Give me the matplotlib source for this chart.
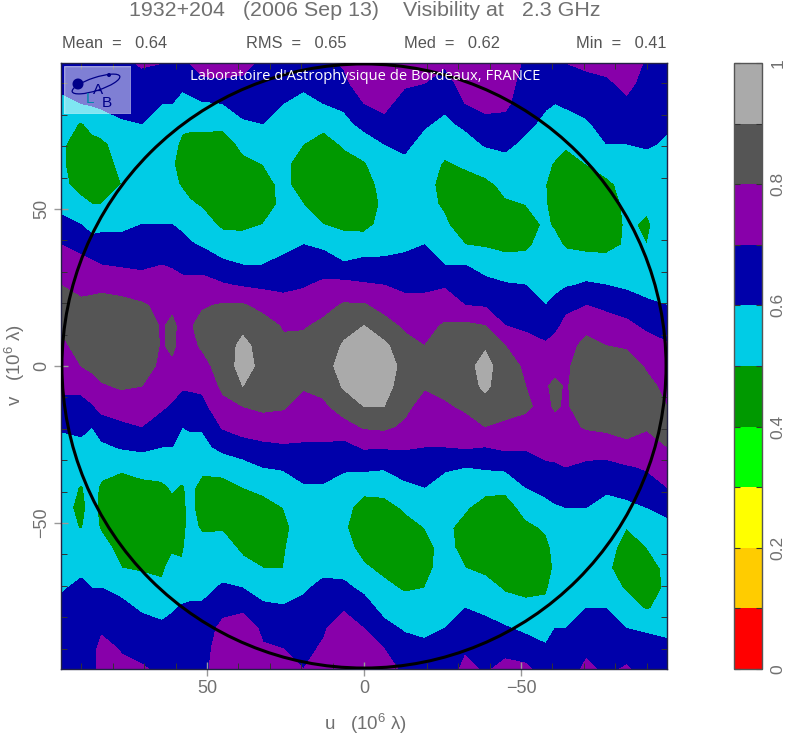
import numpy as np
import matplotlib
matplotlib.use('Agg')
import matplotlib.pyplot as plt
from matplotlib.patches import Circle, Ellipse, Rectangle

# u position of each column of the map
u_cols = [96.5, 90.1, 86.6, 83.6, 77.2, 70.8, 64.3, 61.1, 57.9, 55.4, 51.5, 45.0, 38.6, 32.2, 25.7, 19.3, 12.9, 6.4, 0,
          -6.4, -12.9, -19.3, -25.7, -32.2, -38.6, -45.0, -51.5, -57.9, -60.8, -64.3, -70.8, -77.2, -83.6, -90.1, -96.5]
# visibility, one list per u column (left to right), top to bottom in v
vis_cols = [
    [.66,.62,.58,.55,.51,.51,.52,.57,.63,.70,.75,.80,.82,.81,.78,.75,.72,.67,.61,.57,.55,.53,.52,.53,.54,.56,.59,.62,.64,.65,.66],
    [.64,.62,.60,.49,.47,.46,.47,.52,.60,.66,.74,.77,.82,.85,.83,.80,.73,.66,.62,.58,.54,.495,.485,.495,.55,.58,.62,.64,.66,.65,.65],
    [.66,.64,.61,.53,.47,.46,.47,.50,.57,.63,.72,.77,.83,.86,.85,.82,.76,.69,.60,.58,.54,.52,.52,.53,.55,.58,.60,.63,.65,.66,.66],
    [.70,.66,.62,.55,.48,.46,.48,.50,.58,.63,.70,.78,.83,.86,.87,.84,.79,.73,.65,.58,.52,.49,.48,.49,.53,.57,.60,.63,.68,.74,.74],
    [.68,.65,.63,.59,.54,.52,.50,.54,.58,.63,.69,.76,.83,.87,.88,.85,.81,.75,.68,.61,.51,.47,.45,.45,.47,.50,.58,.62,.66,.69,.73],
    [.71,.67,.63,.60,.57,.55,.54,.56,.60,.64,.68,.75,.81,.85,.86,.84,.80,.75,.70,.62,.54,.47,.45,.44,.46,.49,.54,.59,.63,.67,.71],
    [.70,.65,.60,.57,.55,.54,.55,.57,.60,.65,.70,.74,.78,.79,.79,.78,.75,.71,.66,.60,.55,.48,.45,.44,.45,.48,.52,.57,.62,.65,.68],
    [.69,.64,.60,.56,.53,.51,.52,.55,.60,.65,.69,.74,.78,.82,.82,.78,.73,.69,.64,.60,.55,.51,.47,.46,.48,.54,.57,.59,.63,.66,.69],
    [.66,.62,.57,.52,.48,.46,.49,.53,.58,.63,.68,.72,.75,.77,.76,.74,.71,.66,.60,.57,.54,.49,.48,.48,.49,.51,.56,.61,.64,.66,.67],
    [.70,.63,.58,.52,.47,.45,.47,.51,.56,.61,.67,.73,.77,.79,.78,.75,.71,.67,.61,.57,.54,.52,.52,.52,.53,.56,.58,.61,.64,.66,.67],
    [.74,.68,.59,.52,.47,.45,.46,.49,.54,.59,.66,.74,.79,.83,.81,.77,.72,.67,.61,.57,.52,.47,.46,.49,.53,.57,.58,.61,.64,.66,.67],
    [.73,.69,.60,.52,.46,.44,.43,.45,.48,.55,.62,.71,.81,.85,.86,.84,.82,.77,.71,.63,.53,.47,.46,.49,.54,.57,.61,.67,.73,.75,.76],
    [.73,.68,.63,.59,.52,.48,.46,.46,.48,.54,.60,.69,.81,.88,.92,.94,.90,.80,.74,.66,.56,.50,.46,.45,.48,.53,.60,.68,.76,.74,.74],
    [.68,.65,.63,.60,.56,.50,.47,.46,.50,.55,.60,.68,.77,.84,.87,.87,.85,.82,.75,.68,.60,.52,.47,.46,.48,.50,.56,.62,.68,.71,.72],
    [.69,.64,.60,.57,.54,.52,.52,.52,.53,.58,.62,.68,.73,.79,.82,.85,.84,.81,.75,.69,.61,.55,.50,.49,.495,.50,.55,.61,.67,.70,.72],
    [.69,.62,.57,.53,.50,.46,.46,.50,.55,.60,.64,.69,.75,.79,.83,.82,.81,.76,.73,.69,.64,.59,.55,.52,.53,.56,.59,.62,.65,.68,.70],
    [.68,.64,.60,.52,.47,.45,.44,.46,.50,.58,.65,.72,.77,.82,.85,.86,.83,.78,.73,.69,.64,.59,.55,.53,.55,.58,.62,.66,.69,.71,.73],
    [.71,.68,.62,.57,.51,.47,.45,.45,.48,.54,.61,.73,.81,.87,.91,.94,.91,.85,.76,.67,.61,.57,.53,.51,.53,.57,.62,.69,.75,.76,.74],
    [.78,.75,.70,.63,.55,.49,.46,.44,.47,.55,.63,.71,.81,.90,.95,.97,.95,.90,.81,.71,.62,.53,.46,.45,.47,.51,.58,.64,.70,.74,.75],
    [.77,.74,.72,.68,.60,.56,.53,.52,.53,.57,.62,.70,.76,.84,.92,.95,.93,.90,.82,.71,.61,.53,.47,.45,.46,.48,.52,.57,.63,.70,.74],
    [.73,.71,.67,.64,.62,.58,.55,.54,.55,.58,.63,.68,.73,.78,.84,.87,.86,.83,.78,.71,.64,.58,.51,.47,.45,.46,.49,.54,.59,.64,.68],
    [.74,.70,.65,.61,.57,.54,.52,.52,.55,.60,.64,.68,.73,.77,.80,.83,.81,.75,.74,.70,.65,.60,.55,.50,.47,.47,.50,.55,.58,.62,.66],
    [.71,.67,.62,.58,.53,.49,.48,.49,.51,.57,.60,.69,.75,.81,.86,.86,.84,.78,.74,.70,.61,.57,.52,.52,.53,.54,.56,.58,.60,.63,.65],
    [.75,.73,.70,.62,.56,.51,.47,.45,.46,.50,.60,.65,.70,.82,.86,.87,.85,.82,.75,.71,.60,.55,.51,.47,.47,.50,.56,.60,.65,.69,.72],
    [.77,.74,.72,.68,.61,.54,.48,.46,.46,.49,.56,.63,.69,.80,.89,.93,.92,.86,.80,.70,.61,.53,.46,.44,.45,.48,.53,.58,.63,.67,.69],
    [.77,.74,.72,.67,.62,.57,.52,.49,.47,.48,.53,.61,.66,.70,.80,.85,.84,.82,.79,.72,.62,.52,.46,.44,.45,.47,.49,.54,.61,.68,.72],
    [.68,.66,.64,.62,.58,.55,.52,.50,.47,.48,.54,.60,.65,.68,.74,.78,.80,.81,.78,.71,.65,.60,.53,.48,.45,.46,.48,.52,.58,.65,.72],
    [.66,.64,.61,.58,.55,.52,.50,.505,.51,.54,.57,.59,.60,.66,.71,.75,.79,.78,.76,.72,.69,.63,.57,.51,.48,.47,.49,.52,.57,.61,.65],
    [.68,.65,.60,.57,.54,.49,.47,.46,.49,.52,.56,.58,.62,.68,.73,.77,.82,.81,.77,.73,.69,.64,.59,.54,.52,.51,.53,.56,.60,.62,.65],
    [.70,.66,.61,.57,.51,.47,.45,.45,.46,.49,.54,.59,.68,.72,.76,.78,.79,.79,.77,.74,.70,.65,.60,.57,.55,.55,.56,.58,.60,.63,.65],
    [.72,.67,.63,.59,.55,.50,.46,.44,.44,.47,.55,.61,.70,.77,.83,.86,.86,.84,.81,.74,.68,.64,.60,.57,.55,.55,.57,.60,.64,.68,.72],
    [.74,.68,.65,.63,.60,.54,.48,.45,.45,.47,.54,.60,.68,.74,.80,.87,.89,.86,.82,.75,.67,.61,.58,.55,.52,.51,.54,.60,.63,.66,.68],
    [.78,.73,.68,.63,.60,.56,.53,.52,.51,.51,.52,.58,.66,.72,.79,.84,.86,.85,.83,.78,.69,.63,.58,.50,.48,.47,.49,.54,.60,.66,.71],
    [.68,.66,.64,.62,.61,.57,.54,.51,.49,.50,.54,.58,.61,.68,.74,.79,.82,.84,.81,.76,.71,.66,.60,.55,.50,.47,.47,.49,.59,.63,.66],
    [.67,.65,.63,.61,.59,.57,.55,.54,.54,.55,.56,.58,.60,.66,.71,.75,.78,.80,.82,.80,.75,.70,.63,.57,.54,.515,.51,.54,.59,.61,.62],
]
levels = [0, .1, .2, .3, .4, .5, .6, .7, .8, .9, 1]
band_colors = ['#ff0000', '#ffcc00', '#ffff00', '#00ff00', '#009900',
               '#00cce6', '#0000aa', '#8800aa', '#555555', '#aaaaaa']
stats = [('Mean  =   0.64', 62), ('RMS  =   0.65', 246), ('Med  =   0.62', 404), ('Min  =   0.41', 576)]
uv_major = [-50, 0, 50]
cbar_ticks = [0, .2, .4, .6, .8, 1]
cbar_labels = ['0', '0.2', '0.4', '0.6', '0.8', '1']

plt.rcParams['font.family'] = ['Liberation Sans', 'DejaVu Sans']
plt.rcParams['mathtext.default'] = 'regular'
W, H = 786, 735
GREY = '#707070'
LIM = 96.5

vis = np.array(vis_cols).T
v = np.linspace(LIM, -LIM, vis.shape[0])

fig = plt.figure(figsize=(W / 100, H / 100), dpi=100)
ax = fig.add_axes([61 / W, (H - 669) / H, 606 / W, 606 / H])
cf = ax.contourf(u_cols, v, vis, levels=levels, colors=band_colors)
ax.add_patch(Circle((0, 0), LIM - 0.3, fill=False, edgecolor='black', lw=2.2, zorder=5))
ax.set_xlim(LIM, -LIM)
ax.set_ylim(-LIM, LIM)
ax.set_xticks(uv_major)
ax.set_yticks(uv_major)
ax.set_xticks(np.arange(-90, 91, 10), minor=True)
ax.set_yticks(np.arange(-90, 91, 10), minor=True)
ax.tick_params(which='major', direction='inout', length=10, width=1, color='#999999',
               top=False, right=False, labelsize=13, labelcolor=GREY, pad=3)
ax.tick_params(which='minor', direction='in', length=4, width=0.7, color='#333333',
               top=True, right=True)
ax.set_xticklabels(['\u221250', '0', '50'])
ax.set_yticklabels(['\u221250', '0', '50'], rotation=90, va='center')
for s in ax.spines.values():
    s.set_linewidth(1)
    s.set_color('#222244')

# text placed in pixels of the reference
def px_text(x, y, s, **kw):
    fig.text(x / W, 1 - y / H, s, **kw)

px_text(365, 10, '1932+204   (2006 Sep 13)    Visibility at   2.3 GHz', fontsize=15.4,
        color=GREY, ha='center', va='center')
for label, x in stats:
    px_text(x, 44, label, fontsize=11.8, color='#555555', ha='left', va='center')
px_text(365, 724, 'u   (10$^6$ $\\lambda$)', fontsize=13.5, color=GREY, ha='center', va='center')
px_text(15, 365, 'v   (10$^6$ $\\lambda$)', fontsize=13.5, color=GREY, ha='center', va='center', rotation=90)
px_text(365, 77, "Laboratoire d'Astrophysique de Bordeaux, FRANCE", fontsize=10.6,
        color='white', ha='center', va='center', family='Open Sans')

# logo, drawn in pixel coordinates over the map
logo = fig.add_axes([64 / W, (H - 114) / H, 67 / W, 48 / H])
logo.set_xlim(64, 131)
logo.set_ylim(114, 66)
logo.axis('off')
logo.add_patch(Rectangle((64, 66), 67, 48, color='white', alpha=0.5))
logo.add_patch(Circle((78, 84), 4.8, color='#000088'))
logo.add_patch(Ellipse((96, 84), 50, 13, angle=-18, fill=False, edgecolor='#000088', lw=0.9))
logo.add_patch(Circle((109, 75), 1.3, color='#000088'))
logo.text(90, 99, 'L', color='#0088aa', fontsize=11, ha='center', va='center')
logo.text(98, 90, 'A', color='#000088', fontsize=11, ha='center', va='center')
logo.text(107, 103, 'B', color='#000088', fontsize=11, ha='center', va='center')

# colour bar
cax = fig.add_axes([734 / W, (H - 669) / H, 28 / W, 606 / H])
cb = fig.colorbar(cf, cax=cax, ticks=cbar_ticks)
cb.outline.set_linewidth(1)
cb.outline.set_edgecolor('#555555')
cax.set_yticks([.1, .3, .5, .7, .9], minor=True)
cax.set_yticklabels(cbar_labels, rotation=90, va='center', color=GREY, fontsize=12.5)
cax.tick_params(which='both', direction='in', length=4, width=0.8, color='#333333', left=True, right=True, pad=6)

fig.savefig('out.png', dpi=100)
